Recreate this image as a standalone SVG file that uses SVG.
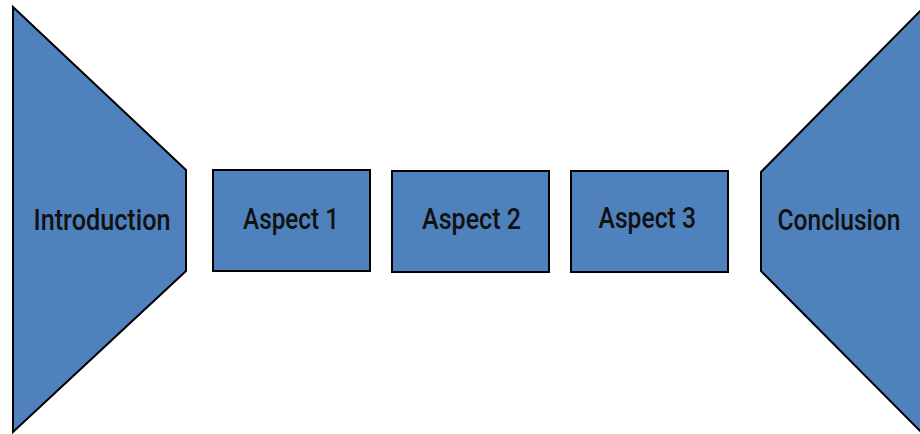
<svg xmlns="http://www.w3.org/2000/svg" width="920" height="434" viewBox="0 0 920 434">
  <style>
    .shape { fill: #4f81bd; stroke: #000; stroke-width: 2; stroke-linejoin: miter; }
    .label { font-family: "Roboto", "Liberation Sans", sans-serif; font-size: 30px; font-weight: 500; fill: #111; text-anchor: start; }
  </style>
  <rect width="920" height="434" fill="#fff"/>
  <g id="connectors"/>
  <g id="introduction">
    <polygon class="shape" points="13,7 186,170 186,271 13,432"/>
    <text class="label" x="33.5" y="230" textLength="137" lengthAdjust="spacingAndGlyphs">Introduction</text>
  </g>
  <g id="aspect1">
    <rect class="shape" x="213" y="170" width="157" height="101"/>
    <text class="label" x="243" y="228.5" textLength="96" lengthAdjust="spacingAndGlyphs">Aspect 1</text>
  </g>
  <g id="aspect2">
    <rect class="shape" x="392" y="171" width="157" height="101"/>
    <text class="label" x="422" y="228.5" textLength="99" lengthAdjust="spacingAndGlyphs">Aspect 2</text>
  </g>
  <g id="aspect3">
    <rect class="shape" x="571" y="171" width="157" height="101"/>
    <text class="label" x="598.5" y="228" textLength="97.5" lengthAdjust="spacingAndGlyphs">Aspect 3</text>
  </g>
  <g id="conclusion">
    <polygon class="shape" points="934,-3 761,172 761,271 934,445"/>
    <text class="label" x="777.5" y="230" textLength="123" lengthAdjust="spacingAndGlyphs">Conclusion</text>
  </g>
</svg>
